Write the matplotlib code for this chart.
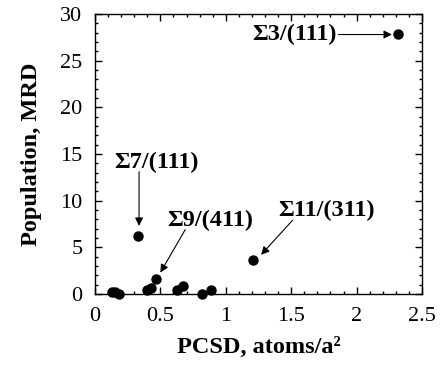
import matplotlib
matplotlib.use("Agg")
import matplotlib.pyplot as plt
from matplotlib.ticker import MultipleLocator

plt.rcParams['font.family'] = ['Liberation Serif', 'DejaVu Serif']

# PCSD (atoms/a^2) y poblacion (MRD)
pcsd = [0.13, 0.155, 0.185, 0.33, 0.395, 0.43, 0.47, 0.625, 0.67, 0.82, 0.89, 1.21, 2.32]
poblacion = [0.2, 0.2, 0.0, 6.2, 0.4, 0.6, 1.6, 0.4, 0.85, 0.0, 0.45, 3.6, 27.9]

# etiquetas: texto, posicion del texto, inicio y fin de flecha
etiquetas = ['Σ3/(111)', 'Σ7/(111)', 'Σ9/(411)', 'Σ11/(311)']
texto_xy = [(1.85, 27.8), (0.47, 14.1), (0.88, 7.9), (1.77, 9.0)]
flecha_desde = [(1.86, 27.8), (0.337, 13.1), (0.69, 6.9), (1.51, 7.9)]
flecha_hasta = [(2.27, 27.8), (0.337, 7.3), (0.50, 2.3), (1.27, 4.2)]
alineacion = ['right', 'center', 'center', 'center']

fig = plt.figure(figsize=(4.43, 3.68), dpi=100)
ax = fig.add_axes([0.2144, 0.201, 0.7382, 0.761])

ax.plot(pcsd, poblacion, 'o', color='black', markersize=6.5, clip_on=False, zorder=3)

for txt, (tx, ty), ini, fin, ha in zip(etiquetas, texto_xy, flecha_desde, flecha_hasta, alineacion):
    ax.text(tx, ty, txt, ha=ha, va='center', fontsize=17.5, fontweight='bold')
    ax.annotate('', xy=fin, xytext=ini,
                arrowprops=dict(arrowstyle='-|>', color='black', lw=0.8,
                                mutation_scale=12, shrinkA=0, shrinkB=0))

ax.set_xlim(0, 2.5)
ax.set_ylim(0, 30)
ax.xaxis.set_major_locator(MultipleLocator(0.5))
ax.xaxis.set_minor_locator(MultipleLocator(0.1))
ax.yaxis.set_major_locator(MultipleLocator(5))
ax.yaxis.set_minor_locator(MultipleLocator(1))
ax.set_xticks([0, 0.5, 1, 1.5, 2, 2.5])
ax.set_xticklabels(['0', '0.5', '1', '1.5', '2', '2.5'])

ax.tick_params(which='both', direction='in', top=True, right=True, labelsize=16, width=1)
ax.tick_params(which='major', length=5, pad=9)
ax.tick_params(which='minor', length=2.5)
for s in ax.spines.values():
    s.set_linewidth(1)

ax.set_xlabel('PCSD, atoms/a²', fontsize=17.5, fontweight='bold', labelpad=8)
ax.set_ylabel('Population, MRD', fontsize=17.5, fontweight='bold', labelpad=13)

fig.savefig('out.png', dpi=100)
